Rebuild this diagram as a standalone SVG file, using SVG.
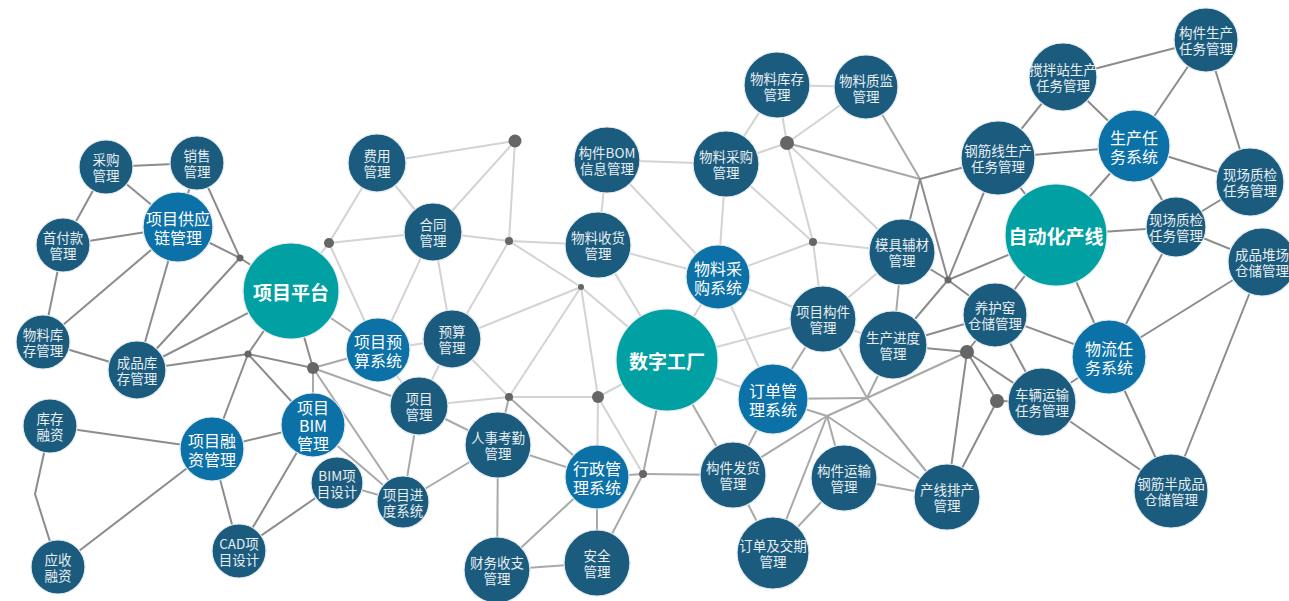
<svg xmlns="http://www.w3.org/2000/svg" width="1289" height="601" viewBox="0 0 1289 601">
<style>
line,polyline{stroke-width:2;fill:none;stroke-linecap:round}
.e1{stroke:#8c8c8c}
.e2{stroke:#a9a9a9}
.e3{stroke:#d3d3d3}
.dot{fill:#666}
circle.n{stroke:#e3ebf0;stroke-width:1.2}
.nd{fill:#1a5b7e}
.nb{fill:#0b71a7}
.nt{fill:#00a0a3}
text{font-family:"Noto Sans CJK SC","Noto Sans",sans-serif;text-anchor:middle;dominant-baseline:central}
.s{font-size:13.5px;fill:#e8eef2}
.b{font-size:16px;fill:#ffffff}
.t{font-size:19px;font-weight:bold;fill:#ffffff}
</style>
<rect width="1289" height="601" fill="#ffffff"/>
<g id="connectors">
<line class="e1" x1="106" y1="167" x2="197" y2="163"/>
<line class="e1" x1="106" y1="167" x2="178" y2="227"/>
<line class="e1" x1="106" y1="167" x2="63" y2="245"/>
<line class="e1" x1="197" y1="163" x2="178" y2="227"/>
<line class="e1" x1="197" y1="163" x2="240" y2="258"/>
<line class="e1" x1="63" y1="245" x2="178" y2="227"/>
<line class="e1" x1="63" y1="245" x2="43" y2="342"/>
<line class="e1" x1="178" y1="227" x2="43" y2="342"/>
<line class="e1" x1="178" y1="227" x2="137" y2="370"/>
<line class="e1" x1="178" y1="227" x2="240" y2="258"/>
<line class="e1" x1="240" y1="258" x2="291" y2="291"/>
<line class="e1" x1="240" y1="258" x2="137" y2="370"/>
<line class="e1" x1="43" y1="342" x2="137" y2="370"/>
<line class="e1" x1="137" y1="370" x2="291" y2="291"/>
<line class="e1" x1="137" y1="370" x2="248" y2="354"/>
<line class="e1" x1="291" y1="291" x2="248" y2="354"/>
<line class="e1" x1="248" y1="354" x2="313" y2="368"/>
<line class="e1" x1="291" y1="291" x2="313" y2="368"/>
<line class="e1" x1="248" y1="354" x2="313" y2="425"/>
<line class="e1" x1="248" y1="354" x2="212" y2="449"/>
<line class="e1" x1="212" y1="449" x2="313" y2="425"/>
<line class="e1" x1="313" y1="425" x2="239" y2="551"/>
<line class="e1" x1="337" y1="483" x2="239" y2="551"/>
<line class="e1" x1="212" y1="449" x2="239" y2="551"/>
<line class="e1" x1="212" y1="449" x2="50" y2="426"/>
<line class="e1" x1="212" y1="449" x2="58" y2="567"/>
<polyline class="e1" points="50,426 35,494 58,567"/>
<line class="e2" x1="313" y1="368" x2="378" y2="350"/>
<line class="e2" x1="313" y1="368" x2="419" y2="406"/>
<line class="e2" x1="313" y1="368" x2="403" y2="502"/>
<line class="e2" x1="313" y1="368" x2="313" y2="425"/>
<line class="e2" x1="313" y1="425" x2="403" y2="502"/>
<line class="e2" x1="337" y1="483" x2="403" y2="502"/>
<line class="e2" x1="419" y1="406" x2="403" y2="502"/>
<line class="e2" x1="403" y1="502" x2="498" y2="445"/>
<line class="e2" x1="419" y1="406" x2="498" y2="445"/>
<line class="e2" x1="498" y1="445" x2="597" y2="477"/>
<line class="e2" x1="498" y1="445" x2="497" y2="570"/>
<line class="e2" x1="597" y1="477" x2="497" y2="570"/>
<line class="e2" x1="597" y1="477" x2="597" y2="563"/>
<line class="e2" x1="497" y1="570" x2="597" y2="563"/>
<line class="e2" x1="597" y1="563" x2="643" y2="474"/>
<line class="e2" x1="597" y1="477" x2="643" y2="474"/>
<line class="e2" x1="643" y1="474" x2="733" y2="475"/>
<line class="e2" x1="509" y1="397" x2="597" y2="477"/>
<line class="e2" x1="509" y1="397" x2="498" y2="445"/>
<line class="e2" x1="291" y1="291" x2="378" y2="350"/>
<line class="e3" x1="329" y1="243" x2="291" y2="291"/>
<line class="e3" x1="329" y1="243" x2="377" y2="163"/>
<line class="e3" x1="329" y1="243" x2="433" y2="232"/>
<line class="e3" x1="329" y1="243" x2="378" y2="350"/>
<line class="e3" x1="377" y1="163" x2="433" y2="232"/>
<line class="e3" x1="377" y1="163" x2="515" y2="141"/>
<line class="e3" x1="433" y1="232" x2="515" y2="141"/>
<line class="e3" x1="515" y1="141" x2="509" y2="241"/>
<line class="e3" x1="433" y1="232" x2="509" y2="241"/>
<line class="e3" x1="433" y1="232" x2="378" y2="350"/>
<line class="e3" x1="433" y1="232" x2="452" y2="339"/>
<line class="e3" x1="452" y1="339" x2="378" y2="350"/>
<line class="e3" x1="509" y1="241" x2="598" y2="245"/>
<line class="e3" x1="509" y1="241" x2="452" y2="339"/>
<line class="e3" x1="509" y1="241" x2="581" y2="287"/>
<line class="e3" x1="581" y1="287" x2="452" y2="339"/>
<line class="e3" x1="581" y1="287" x2="509" y2="397"/>
<line class="e3" x1="581" y1="287" x2="598" y2="397"/>
<line class="e3" x1="581" y1="287" x2="667" y2="360"/>
<line class="e3" x1="452" y1="339" x2="509" y2="397"/>
<line class="e3" x1="419" y1="406" x2="509" y2="397"/>
<line class="e3" x1="509" y1="397" x2="598" y2="397"/>
<line class="e3" x1="378" y1="350" x2="419" y2="406"/>
<line class="e3" x1="452" y1="339" x2="419" y2="406"/>
<line class="e3" x1="598" y1="245" x2="607" y2="160"/>
<line class="e3" x1="598" y1="245" x2="718" y2="277"/>
<line class="e3" x1="598" y1="245" x2="667" y2="360"/>
<line class="e3" x1="607" y1="160" x2="726" y2="164"/>
<line class="e3" x1="607" y1="160" x2="718" y2="277"/>
<line class="e3" x1="726" y1="164" x2="718" y2="277"/>
<line class="e3" x1="726" y1="164" x2="787" y2="143"/>
<line class="e3" x1="726" y1="164" x2="813" y2="242"/>
<line class="e3" x1="718" y1="277" x2="813" y2="242"/>
<line class="e3" x1="718" y1="277" x2="823" y2="319"/>
<line class="e3" x1="718" y1="277" x2="773" y2="399"/>
<line class="e3" x1="718" y1="277" x2="667" y2="360"/>
<line class="e3" x1="667" y1="360" x2="823" y2="319"/>
<line class="e3" x1="667" y1="360" x2="773" y2="399"/>
<line class="e2" x1="667" y1="360" x2="733" y2="475"/>
<line class="e3" x1="667" y1="360" x2="598" y2="397"/>
<line class="e2" x1="667" y1="360" x2="643" y2="474"/>
<line class="e3" x1="598" y1="397" x2="597" y2="477"/>
<line class="e3" x1="598" y1="397" x2="643" y2="474"/>
<line class="e3" x1="777" y1="85" x2="866" y2="87"/>
<line class="e3" x1="777" y1="85" x2="726" y2="164"/>
<line class="e3" x1="777" y1="85" x2="787" y2="143"/>
<line class="e3" x1="787" y1="143" x2="866" y2="87"/>
<line class="e3" x1="787" y1="143" x2="902" y2="252"/>
<line class="e3" x1="787" y1="143" x2="813" y2="242"/>
<line class="e3" x1="813" y1="242" x2="902" y2="252"/>
<line class="e3" x1="813" y1="242" x2="823" y2="319"/>
<line class="e3" x1="902" y1="252" x2="823" y2="319"/>
<line class="e3" x1="823" y1="319" x2="893" y2="345"/>
<line class="e2" x1="787" y1="143" x2="920" y2="179"/>
<line class="e2" x1="866" y1="87" x2="920" y2="179"/>
<line class="e2" x1="902" y1="252" x2="893" y2="345"/>
<line class="e2" x1="823" y1="319" x2="773" y2="399"/>
<line class="e2" x1="823" y1="319" x2="867" y2="398"/>
<line class="e2" x1="773" y1="399" x2="867" y2="398"/>
<line class="e2" x1="867" y1="398" x2="947" y2="497"/>
<line class="e2" x1="893" y1="345" x2="867" y2="398"/>
<line class="e2" x1="967" y1="352" x2="867" y2="398"/>
<line class="e2" x1="867" y1="398" x2="827" y2="416"/>
<line class="e2" x1="827" y1="416" x2="733" y2="475"/>
<line class="e2" x1="827" y1="416" x2="773" y2="399"/>
<line class="e2" x1="827" y1="416" x2="947" y2="497"/>
<line class="e2" x1="827" y1="416" x2="844" y2="478"/>
<line class="e2" x1="827" y1="416" x2="773" y2="553"/>
<line class="e2" x1="844" y1="478" x2="947" y2="497"/>
<line class="e2" x1="844" y1="478" x2="773" y2="553"/>
<line class="e2" x1="733" y1="475" x2="773" y2="399"/>
<line class="e2" x1="733" y1="475" x2="773" y2="553"/>
<line class="e1" x1="920" y1="179" x2="998" y2="158"/>
<line class="e1" x1="920" y1="179" x2="902" y2="252"/>
<line class="e1" x1="920" y1="179" x2="948" y2="280"/>
<line class="e1" x1="948" y1="280" x2="998" y2="158"/>
<line class="e1" x1="948" y1="280" x2="1056" y2="235"/>
<line class="e1" x1="948" y1="280" x2="995" y2="315"/>
<line class="e1" x1="948" y1="280" x2="893" y2="345"/>
<line class="e1" x1="948" y1="280" x2="902" y2="252"/>
<line class="e1" x1="893" y1="345" x2="995" y2="315"/>
<line class="e1" x1="893" y1="345" x2="967" y2="352"/>
<line class="e1" x1="967" y1="352" x2="947" y2="497"/>
<line class="e1" x1="997" y1="401" x2="947" y2="497"/>
<line class="e1" x1="967" y1="352" x2="997" y2="401"/>
<line class="e1" x1="967" y1="352" x2="995" y2="315"/>
<line class="e1" x1="967" y1="352" x2="1042" y2="402"/>
<line class="e1" x1="997" y1="401" x2="1042" y2="402"/>
<line class="e1" x1="995" y1="315" x2="1042" y2="402"/>
<line class="e1" x1="995" y1="315" x2="1109" y2="357"/>
<line class="e1" x1="1056" y1="235" x2="995" y2="315"/>
<line class="e1" x1="1056" y1="235" x2="1109" y2="357"/>
<line class="e1" x1="1109" y1="357" x2="1042" y2="402"/>
<line class="e1" x1="1109" y1="357" x2="1171" y2="491"/>
<line class="e1" x1="1042" y1="402" x2="1171" y2="491"/>
<line class="e1" x1="1262" y1="262" x2="1109" y2="357"/>
<line class="e1" x1="1262" y1="262" x2="1171" y2="491"/>
<line class="e1" x1="1176" y1="227" x2="1109" y2="357"/>
<line class="e1" x1="1176" y1="227" x2="1262" y2="262"/>
<line class="e1" x1="1176" y1="227" x2="1250" y2="182"/>
<line class="e1" x1="1176" y1="227" x2="1056" y2="235"/>
<line class="e1" x1="1134" y1="146" x2="1176" y2="227"/>
<line class="e1" x1="1134" y1="146" x2="1250" y2="182"/>
<line class="e1" x1="1134" y1="146" x2="1056" y2="235"/>
<line class="e1" x1="998" y1="158" x2="1134" y2="146"/>
<line class="e1" x1="998" y1="158" x2="1056" y2="235"/>
<line class="e1" x1="998" y1="158" x2="1063" y2="77"/>
<line class="e1" x1="1063" y1="77" x2="1206" y2="40"/>
<line class="e1" x1="1063" y1="77" x2="1134" y2="146"/>
<line class="e1" x1="1206" y1="40" x2="1134" y2="146"/>
<line class="e1" x1="1206" y1="40" x2="1250" y2="182"/>
</g>
<g id="junctions">
<circle class="dot" cx="240" cy="258" r="3.5"/>
<circle class="dot" cx="329" cy="243" r="5"/>
<circle class="dot" cx="248" cy="354" r="3.5"/>
<circle class="dot" cx="313" cy="368" r="6"/>
<circle class="dot" cx="515" cy="141" r="6.5"/>
<circle class="dot" cx="509" cy="241" r="4"/>
<circle class="dot" cx="581" cy="287" r="3"/>
<circle class="dot" cx="509" cy="397" r="4"/>
<circle class="dot" cx="598" cy="397" r="6"/>
<circle class="dot" cx="643" cy="474" r="4"/>
<circle class="dot" cx="787" cy="143" r="7"/>
<circle class="dot" cx="813" cy="242" r="4"/>
<circle class="dot" cx="948" cy="280" r="3.5"/>
<circle class="dot" cx="967" cy="352" r="7"/>
<circle class="dot" cx="997" cy="401" r="7"/>
</g>
<g id="n01"><circle class="n nd" cx="106" cy="167" r="27"/><text class="s"><tspan x="106" y="159">采购</tspan><tspan x="106" y="175">管理</tspan></text></g>
<g id="n02"><circle class="n nd" cx="197" cy="163" r="27"/><text class="s"><tspan x="197" y="155">销售</tspan><tspan x="197" y="171">管理</tspan></text></g>
<g id="n03"><circle class="n nb" cx="178" cy="227" r="35"/><text class="b"><tspan x="178" y="217.5">项目供应</tspan><tspan x="178" y="236.5">链管理</tspan></text></g>
<g id="n04"><circle class="n nd" cx="63" cy="245" r="27"/><text class="s"><tspan x="63" y="237">首付款</tspan><tspan x="63" y="253">管理</tspan></text></g>
<g id="n05"><circle class="n nd" cx="43" cy="342" r="27"/><text class="s"><tspan x="43" y="334">物料库</tspan><tspan x="43" y="350">存管理</tspan></text></g>
<g id="n06"><circle class="n nd" cx="137" cy="370" r="29"/><text class="s"><tspan x="137" y="362">成品库</tspan><tspan x="137" y="378">存管理</tspan></text></g>
<g id="n07"><circle class="n nt" cx="291" cy="291" r="48"/><text class="t" x="291" y="291">项目平台</text></g>
<g id="n08"><circle class="n nd" cx="377" cy="163" r="29"/><text class="s"><tspan x="377" y="155">费用</tspan><tspan x="377" y="171">管理</tspan></text></g>
<g id="n09"><circle class="n nb" cx="378" cy="350" r="32"/><text class="b"><tspan x="378" y="340.5">项目预</tspan><tspan x="378" y="359.5">算系统</tspan></text></g>
<g id="n10"><circle class="n nd" cx="50" cy="426" r="27"/><text class="s"><tspan x="50" y="418">库存</tspan><tspan x="50" y="434">融资</tspan></text></g>
<g id="n11"><circle class="n nd" cx="58" cy="567" r="27"/><text class="s"><tspan x="58" y="559">应收</tspan><tspan x="58" y="575">融资</tspan></text></g>
<g id="n12"><circle class="n nb" cx="212" cy="449" r="32"/><text class="b"><tspan x="212" y="439.5">项目融</tspan><tspan x="212" y="458.5">资管理</tspan></text></g>
<g id="n13"><circle class="n nb" cx="313" cy="425" r="32"/><text class="b"><tspan x="313" y="407">项目</tspan><tspan x="313" y="425">BIM</tspan><tspan x="313" y="443">管理</tspan></text></g>
<g id="n14"><circle class="n nd" cx="337" cy="483" r="26"/><text class="s"><tspan x="337" y="475">BIM项</tspan><tspan x="337" y="491">目设计</tspan></text></g>
<g id="n15"><circle class="n nd" cx="403" cy="502" r="26"/><text class="s"><tspan x="403" y="494">项目进</tspan><tspan x="403" y="510">度系统</tspan></text></g>
<g id="n16"><circle class="n nd" cx="239" cy="551" r="27"/><text class="s"><tspan x="239" y="543">CAD项</tspan><tspan x="239" y="559">目设计</tspan></text></g>
<g id="n17"><circle class="n nd" cx="419" cy="406" r="29"/><text class="s"><tspan x="419" y="398">项目</tspan><tspan x="419" y="414">管理</tspan></text></g>
<g id="n18"><circle class="n nd" cx="433" cy="232" r="29"/><text class="s"><tspan x="433" y="224">合同</tspan><tspan x="433" y="240">管理</tspan></text></g>
<g id="n19"><circle class="n nd" cx="452" cy="339" r="29"/><text class="s"><tspan x="452" y="331">预算</tspan><tspan x="452" y="347">管理</tspan></text></g>
<g id="n20"><circle class="n nd" cx="607" cy="160" r="33"/><text class="s"><tspan x="607" y="152">构件BOM</tspan><tspan x="607" y="168">信息管理</tspan></text></g>
<g id="n21"><circle class="n nd" cx="726" cy="164" r="33"/><text class="s"><tspan x="726" y="156">物料采购</tspan><tspan x="726" y="172">管理</tspan></text></g>
<g id="n22"><circle class="n nd" cx="598" cy="245" r="33"/><text class="s"><tspan x="598" y="237">物料收货</tspan><tspan x="598" y="253">管理</tspan></text></g>
<g id="n23"><circle class="n nb" cx="718" cy="277" r="32"/><text class="b"><tspan x="718" y="267.5">物料采</tspan><tspan x="718" y="286.5">购系统</tspan></text></g>
<g id="n24"><circle class="n nt" cx="667" cy="360" r="51"/><text class="t" x="667" y="360">数字工厂</text></g>
<g id="n25"><circle class="n nd" cx="498" cy="445" r="33"/><text class="s"><tspan x="498" y="437">人事考勤</tspan><tspan x="498" y="453">管理</tspan></text></g>
<g id="n26"><circle class="n nb" cx="597" cy="477" r="32"/><text class="b"><tspan x="597" y="467.5">行政管</tspan><tspan x="597" y="486.5">理系统</tspan></text></g>
<g id="n27"><circle class="n nd" cx="497" cy="570" r="33"/><text class="s"><tspan x="497" y="562">财务收支</tspan><tspan x="497" y="578">管理</tspan></text></g>
<g id="n28"><circle class="n nd" cx="597" cy="563" r="33"/><text class="s"><tspan x="597" y="555">安全</tspan><tspan x="597" y="571">管理</tspan></text></g>
<g id="n29"><circle class="n nd" cx="733" cy="475" r="33"/><text class="s"><tspan x="733" y="467">构件发货</tspan><tspan x="733" y="483">管理</tspan></text></g>
<g id="n30"><circle class="n nb" cx="773" cy="399" r="35"/><text class="b"><tspan x="773" y="389.5">订单管</tspan><tspan x="773" y="408.5">理系统</tspan></text></g>
<g id="n31"><circle class="n nd" cx="773" cy="553" r="36"/><text class="s"><tspan x="773" y="545">订单及交期</tspan><tspan x="773" y="561">管理</tspan></text></g>
<g id="n32"><circle class="n nd" cx="777" cy="85" r="33"/><text class="s"><tspan x="777" y="78">物料库存</tspan><tspan x="777" y="94">管理</tspan></text></g>
<g id="n33"><circle class="n nd" cx="866" cy="87" r="32"/><text class="s"><tspan x="866" y="80">物料质监</tspan><tspan x="866" y="96">管理</tspan></text></g>
<g id="n34"><circle class="n nd" cx="998" cy="158" r="37"/><text class="s"><tspan x="998" y="150">钢筋线生产</tspan><tspan x="998" y="166">任务管理</tspan></text></g>
<g id="n35"><circle class="n nd" cx="902" cy="252" r="33"/><text class="s"><tspan x="902" y="244">模具辅材</tspan><tspan x="902" y="260">管理</tspan></text></g>
<g id="n36"><circle class="n nd" cx="823" cy="319" r="33"/><text class="s"><tspan x="823" y="311">项目构件</tspan><tspan x="823" y="327">管理</tspan></text></g>
<g id="n37"><circle class="n nd" cx="893" cy="345" r="34"/><text class="s"><tspan x="893" y="337">生产进度</tspan><tspan x="893" y="353">管理</tspan></text></g>
<g id="n38"><circle class="n nd" cx="995" cy="315" r="32"/><text class="s"><tspan x="995" y="307">养护窑</tspan><tspan x="995" y="323">仓储管理</tspan></text></g>
<g id="n39"><circle class="n nd" cx="844" cy="478" r="33"/><text class="s"><tspan x="844" y="470">构件运输</tspan><tspan x="844" y="486">管理</tspan></text></g>
<g id="n40"><circle class="n nd" cx="947" cy="497" r="33"/><text class="s"><tspan x="947" y="489">产线排产</tspan><tspan x="947" y="505">管理</tspan></text></g>
<g id="n41"><circle class="n nd" cx="1042" cy="402" r="34"/><text class="s"><tspan x="1042" y="394">车辆运输</tspan><tspan x="1042" y="410">任务管理</tspan></text></g>
<g id="n42"><circle class="n nd" cx="1206" cy="40" r="32"/><text class="s"><tspan x="1206" y="32">构件生产</tspan><tspan x="1206" y="48">任务管理</tspan></text></g>
<g id="n43"><circle class="n nd" cx="1063" cy="77" r="34"/><text class="s"><tspan x="1063" y="69">搅拌站生产</tspan><tspan x="1063" y="85">任务管理</tspan></text></g>
<g id="n44"><circle class="n nb" cx="1134" cy="146" r="36"/><text class="b"><tspan x="1134" y="136.5">生产任</tspan><tspan x="1134" y="155.5">务系统</tspan></text></g>
<g id="n45"><circle class="n nd" cx="1250" cy="182" r="34"/><text class="s"><tspan x="1250" y="174">现场质检</tspan><tspan x="1250" y="190">任务管理</tspan></text></g>
<g id="n46"><circle class="n nd" cx="1176" cy="227" r="30"/><text class="s"><tspan x="1176" y="219">现场质检</tspan><tspan x="1176" y="235">任务管理</tspan></text></g>
<g id="n47"><circle class="n nt" cx="1056" cy="235" r="51"/><text class="t" x="1056" y="235">自动化产线</text></g>
<g id="n48"><circle class="n nd" cx="1262" cy="262" r="34"/><text class="s"><tspan x="1262" y="254">成品堆场</tspan><tspan x="1262" y="270">仓储管理</tspan></text></g>
<g id="n49"><circle class="n nb" cx="1109" cy="357" r="37"/><text class="b"><tspan x="1109" y="347.5">物流任</tspan><tspan x="1109" y="366.5">务系统</tspan></text></g>
<g id="n50"><circle class="n nd" cx="1171" cy="491" r="37"/><text class="s"><tspan x="1171" y="483">钢筋半成品</tspan><tspan x="1171" y="499">仓储管理</tspan></text></g>
</svg>
